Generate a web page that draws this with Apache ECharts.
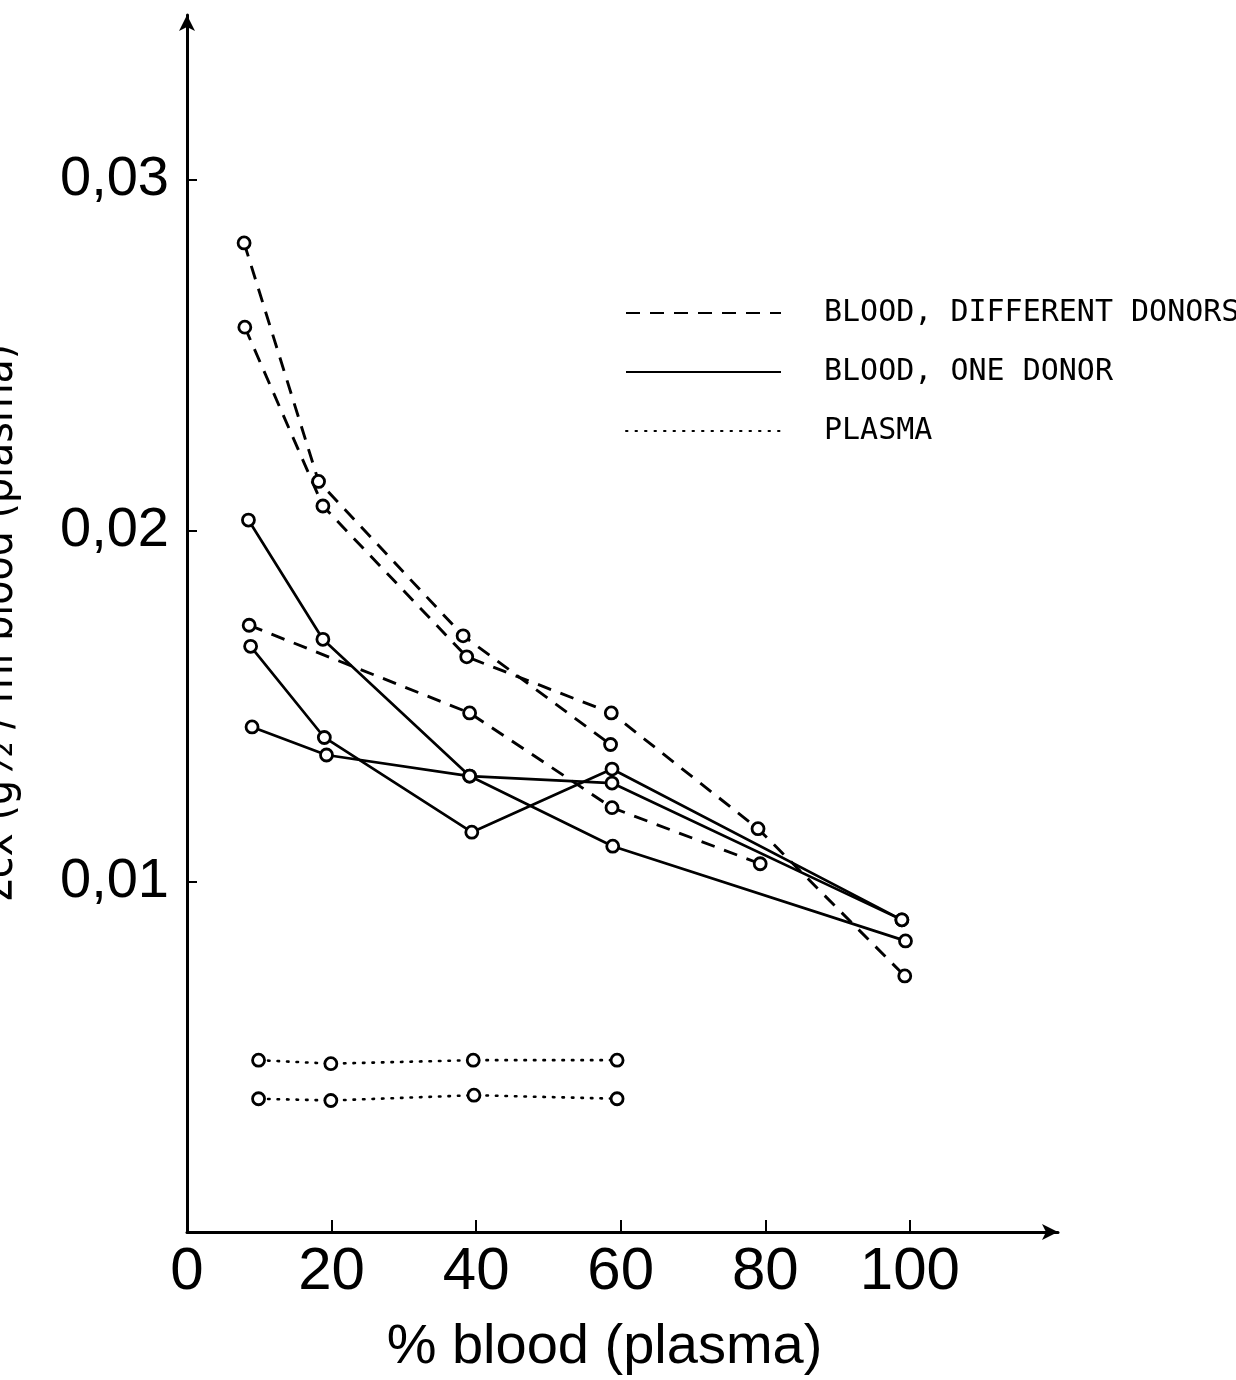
<!DOCTYPE html>
<html>
<head>
<meta charset="utf-8">
<script src="https://cdn.jsdelivr.net/npm/echarts@6/dist/echarts.min.js"></script>
<style>html,body{margin:0;padding:0;background:#fff;}#c{width:1236px;height:1380px;}</style>
</head>
<body>
<div id="c"></div>
<script>
// ---- data ----
const xTickLabels = [0, 20, 40, 60, 80, 100];
const yTickLabels = [0.01, 0.02, 0.03];

const diffA_x = [7.9, 18.2, 38.2, 58.6];
const diffA_y = [0.0282, 0.0214, 0.0170, 0.0139];
const diffB_x = [8.0, 18.8, 38.7, 58.7, 79.0, 99.3];
const diffB_y = [0.0258, 0.0207, 0.0164, 0.0148, 0.0115, 0.0073];
const diffC_x = [8.6, 39.1, 58.8, 79.3];
const diffC_y = [0.0173, 0.0148, 0.0121, 0.0105];

const oneA_x = [8.5, 18.8, 39.1, 58.9, 99.4];
const oneA_y = [0.0203, 0.0169, 0.0130, 0.0110, 0.0083];
const oneB_x = [8.8, 19.0, 39.4, 58.8, 98.9];
const oneB_y = [0.0167, 0.0141, 0.0114, 0.0132, 0.0089];
const oneC_x = [9.0, 19.3, 39.1, 58.8, 98.9];
const oneC_y = [0.0144, 0.0136, 0.0130, 0.0128, 0.0089];

const plasmaA_x = [9.9, 19.9, 39.6, 59.5];
const plasmaA_y = [0.0049, 0.0048, 0.0049, 0.0049];
const plasmaB_x = [9.9, 19.9, 39.7, 59.5];
const plasmaB_y = [0.0038, 0.00375, 0.0039, 0.0038];

const NAME_DIFF = 'BLOOD, DIFFERENT DONORS';
const NAME_ONE = 'BLOOD, ONE DONOR';
const NAME_PLASMA = 'PLASMA';

function zip(xs, ys) { return xs.map((x, i) => [x, ys[i]]); }

const dashStyle = { color: '#000', width: 2.9, type: [14, 10], cap: 'butt' };
const solidStyle = { color: '#000', width: 2.7, type: 'solid' };
const dotStyle = { color: '#000', width: 2.6, type: [1.5, 8], cap: 'round' };

function mk(name, xs, ys, ls) {
  return {
    name: name, type: 'line', data: zip(xs, ys),
    symbol: 'circle', symbolSize: 12, showSymbol: true, showAllSymbol: true,
    itemStyle: { color: '#fff', borderColor: '#000', borderWidth: 2.8 },
    lineStyle: ls, emphasis: { disabled: true }, animation: false, z: 3
  };
}

const series = [
  mk(NAME_DIFF, diffA_x, diffA_y, dashStyle),
  mk(NAME_DIFF, diffB_x, diffB_y, dashStyle),
  mk(NAME_DIFF, diffC_x, diffC_y, dashStyle),
  mk(NAME_ONE, oneA_x, oneA_y, solidStyle),
  mk(NAME_ONE, oneB_x, oneB_y, solidStyle),
  mk(NAME_ONE, oneC_x, oneC_y, solidStyle),
  mk(NAME_PLASMA, plasmaA_x, plasmaA_y, dotStyle),
  mk(NAME_PLASMA, plasmaB_x, plasmaB_y, dotStyle)
];

const chart = echarts.init(document.getElementById('c'), null, { renderer: 'canvas' });
chart.setOption({
  backgroundColor: '#fff',
  animation: false,
  grid: { left: 187, right: 1236 - 1058, top: 15, bottom: 1380 - 1232, containLabel: false, outerBoundsMode: 'none' },
  legend: {
    orient: 'vertical', left: 620, top: 293,
    itemWidth: 155, itemHeight: 20, itemGap: 29,
    data: [NAME_DIFF, NAME_ONE, NAME_PLASMA],
    itemStyle: { opacity: 0 },
    textStyle: { color: '#000', fontFamily: "'DejaVu Sans Mono',monospace", fontSize: 30, lineHeight: 30, padding: [0, 0, 0, 38] },
    selectedMode: false
  },
  xAxis: {
    type: 'value', min: 0, max: 120.5,
    axisLine: { show: true, lineStyle: { color: '#000', width: 3 }, symbol: ['none', 'arrow'], symbolSize: [12, 16] },
    axisTick: { show: true, inside: true, length: 12, lineStyle: { color: '#000', width: 2 }, customValues: [20, 40, 60, 80, 100] },
    axisLabel: {
      customValues: xTickLabels, color: '#000', fontSize: 60, margin: 10,
      fontFamily: "'Liberation Sans','Arial',sans-serif"
    },
    splitLine: { show: false },
    name: '% blood (plasma)', nameLocation: 'middle', nameGap: 88,
    nameTextStyle: { color: '#000', fontSize: 56, fontFamily: "'Liberation Sans','Arial',sans-serif", padding: [0, 36, 0, 0] }
  },
  yAxis: {
    type: 'value', min: 0, max: 0.0347,
    axisLine: { show: true, lineStyle: { color: '#000', width: 3 }, symbol: ['none', 'arrow'], symbolSize: [12, 16] },
    axisTick: { show: true, inside: true, length: 10, lineStyle: { color: '#000', width: 2 }, customValues: yTickLabels },
    axisLabel: {
      customValues: yTickLabels, color: '#000', fontSize: 56, margin: 18,
      fontFamily: "'Liberation Sans','Arial',sans-serif",
      formatter: v => v.toFixed(2).replace('.', ',')
    },
    splitLine: { show: false },
    name: 'Σcx (g½ / ml blood (plasma)', nameLocation: 'middle', nameGap: 164, nameRotate: 90,
    nameTextStyle: { color: '#000', fontSize: 44, fontFamily: "'DejaVu Sans Condensed','Liberation Sans',sans-serif" }
  },
  series: series
});
</script>
</body>
</html>
